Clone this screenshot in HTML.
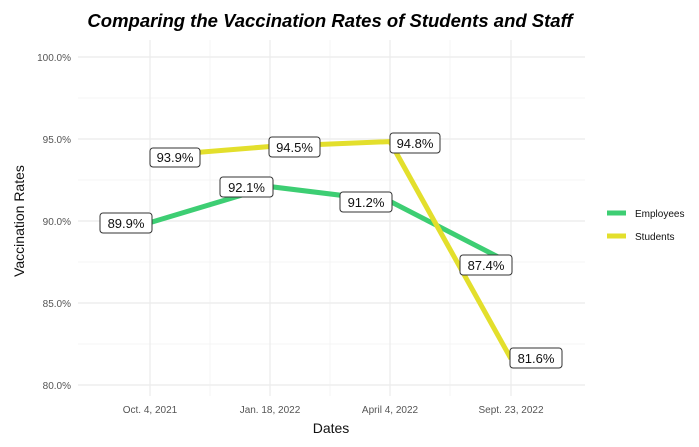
<!DOCTYPE html><html><head><style>body{margin:0;background:#fff}</style></head><body>
<svg width="699" height="442" xmlns="http://www.w3.org/2000/svg" font-family="Liberation Sans, sans-serif">
<rect width="699" height="442" fill="#fff"/>
<g stroke="#f2f2f2" stroke-width="0.7">
<line x1="78" x2="585" y1="98" y2="98"/><line x1="78" x2="585" y1="180" y2="180"/><line x1="78" x2="585" y1="262" y2="262"/><line x1="78" x2="585" y1="344" y2="344"/>
<line x1="210" x2="210" y1="40" y2="396"/><line x1="330" x2="330" y1="40" y2="396"/><line x1="450" x2="450" y1="40" y2="396"/>
</g>
<g stroke="#ebebeb" stroke-width="1.2">
<line x1="78" x2="585" y1="57" y2="57"/><line x1="78" x2="585" y1="139" y2="139"/><line x1="78" x2="585" y1="221" y2="221"/><line x1="78" x2="585" y1="303" y2="303"/><line x1="78" x2="585" y1="385" y2="385"/>
<line x1="150" x2="150" y1="40" y2="396"/><line x1="270" x2="270" y1="40" y2="396"/><line x1="390" x2="390" y1="40" y2="396"/><line x1="511" x2="511" y1="40" y2="396"/>
</g>
<polyline points="150,222.6 270,186.6 390,201.3 511,263.6" fill="none" stroke="#3dce73" stroke-width="5"/>
<polyline points="150,156.3 270,146.5 390,141.6 511,358.8" fill="none" stroke="#e3df2c" stroke-width="5"/>
<g font-size="13" fill="#111">
<g fill="#fff" stroke="#333" stroke-width="1">
<rect x="150" y="148" width="50" height="19" rx="3"/><rect x="269" y="137" width="51" height="20" rx="3"/><rect x="390" y="133" width="50" height="20" rx="3"/>
<rect x="100" y="213" width="52" height="20" rx="3"/><rect x="220" y="177" width="53" height="20" rx="3"/><rect x="340" y="192" width="52" height="20" rx="3"/>
<rect x="460" y="255" width="52" height="20" rx="3"/><rect x="510" y="348" width="52" height="20" rx="3"/>
</g>
<g text-anchor="middle">
<text x="175" y="162">93.9%</text><text x="294.5" y="152">94.5%</text><text x="415" y="148">94.8%</text>
<text x="126" y="228">89.9%</text><text x="246.5" y="192">92.1%</text><text x="366" y="207">91.2%</text>
<text x="486" y="270">87.4%</text><text x="536" y="363">81.6%</text>
</g></g>
<g font-size="10" fill="#555" text-anchor="end">
<text x="71" y="61">100.0%</text><text x="71" y="143">95.0%</text><text x="71" y="225">90.0%</text><text x="71" y="307">85.0%</text><text x="71" y="389">80.0%</text>
</g>
<g font-size="10" fill="#555" text-anchor="middle">
<text x="150" y="413">Oct. 4, 2021</text><text x="270" y="413">Jan. 18, 2022</text><text x="390" y="413">April 4, 2022</text><text x="511" y="413">Sept. 23, 2022</text>
</g>
<text x="331" y="433" font-size="14" text-anchor="middle" fill="#111">Dates</text>
<text transform="translate(24,221) rotate(-90)" font-size="14" text-anchor="middle" fill="#111">Vaccination Rates</text>
<text x="330" y="27" font-size="18.5" font-weight="bold" font-style="italic" text-anchor="middle" fill="#000">Comparing the Vaccination Rates of Students and Staff</text>
<rect x="607" y="210.5" width="19" height="5" fill="#3dce73"/><rect x="607" y="233.5" width="19" height="5" fill="#e3df2c"/>
<g font-size="10" fill="#111"><text x="635" y="217">Employees</text><text x="635" y="240">Students</text></g>
</svg></body></html>
